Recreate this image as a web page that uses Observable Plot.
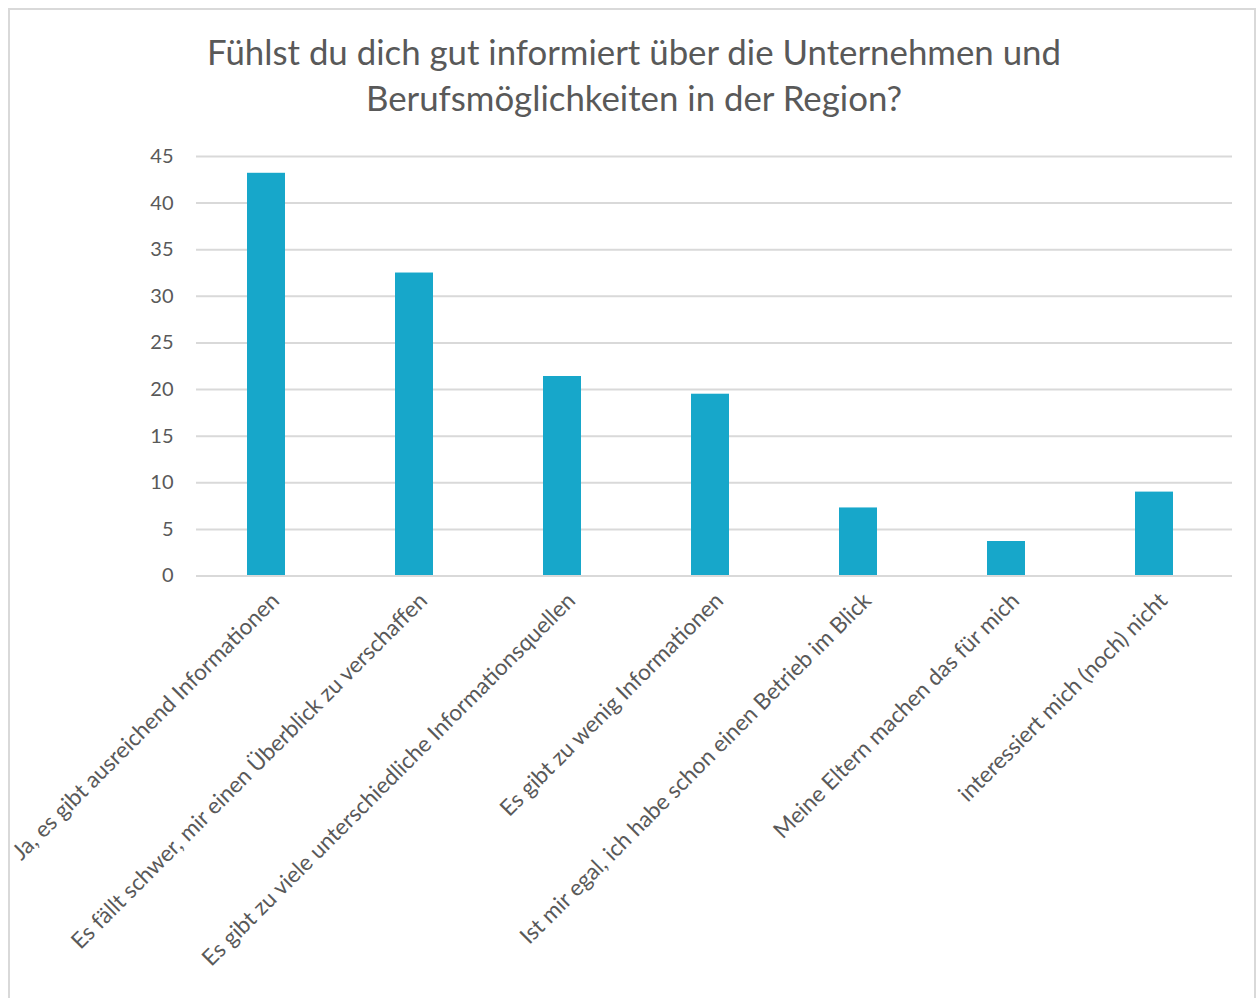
<!DOCTYPE html>
<html>
<head>
<meta charset="utf-8">
<script src="https://cdn.jsdelivr.net/npm/d3@7"></script>
<script src="https://cdn.jsdelivr.net/npm/@observablehq/plot@0.6"></script>
<style>
  html, body { margin: 0; padding: 0; background: #fff; }
  #wrap { position: relative; width: 1260px; height: 998px; overflow: hidden; font-family: Lato, "Open Sans", sans-serif; }
  #frame { position: absolute; left: 8px; top: 8px; width: 1248px; height: 1000px; border: 2px solid #d9d9d9; border-bottom: none; box-sizing: border-box; }
  #title { position: absolute; left: 0; top: 29px; width: 1268px; text-align: center; font-size: 34.8px; line-height: 46px; color: #595959; }
  #chart { position: absolute; left: 0; top: 140px; }
</style>
</head>
<body>
<div id="wrap">
  <div id="frame"></div>
  <div id="title">Fühlst du dich gut informiert über die Unternehmen und<br>Berufsmöglichkeiten in der Region?</div>
  <div id="chart"></div>
</div>
<script>
const categories = [
  "Ja, es gibt ausreichend Informationen",
  "Es fällt schwer, mir einen Überblick zu verschaffen",
  "Es gibt zu viele unterschiedliche Informationsquellen",
  "Es gibt zu wenig Informationen",
  "Ist mir egal, ich habe schon einen Betrieb im Blick",
  "Meine Eltern machen das für mich",
  "interessiert mich (noch) nicht"
];
const values = [43.2, 32.5, 21.4, 19.5, 7.3, 3.7, 9.0];
const yTicks = [0, 5, 10, 15, 20, 25, 30, 35, 40, 45];

const data = categories.map((c, i) => ({category: c, value: values[i]}));

const chart = Plot.plot({
  width: 1260,
  height: 858,
  marginTop: 16,
  marginBottom: 422.5,
  marginLeft: 192,
  marginRight: 32,
  style: {fontFamily: "Lato, 'Open Sans', sans-serif", color: "#595959", background: "transparent"},
  x: {domain: categories, paddingInner: 0.743, paddingOuter: 0.3715, label: null},
  y: {domain: [0, 45], label: null},
  marks: [
    Plot.gridY(yTicks, {stroke: "#d9d9d9", strokeOpacity: 1, strokeWidth: 2, dx: 4}),
    Plot.barY(data, {x: "category", y: "value", fill: "#17a7ca"}),
    Plot.ruleY([0], {stroke: "#d9d9d9", strokeWidth: 2, dx: 4}),
    Plot.axisY(yTicks, {tickSize: 0, tickPadding: 19, fontSize: 20, fill: "#595959", label: null}),
    Plot.axisX({tickSize: 0, tickRotate: -45, tickPadding: 21, fontSize: 22.5, fill: "#595959", label: null, dx: 9})
  ]
});
document.getElementById("chart").appendChild(chart);
</script>
</body>
</html>
